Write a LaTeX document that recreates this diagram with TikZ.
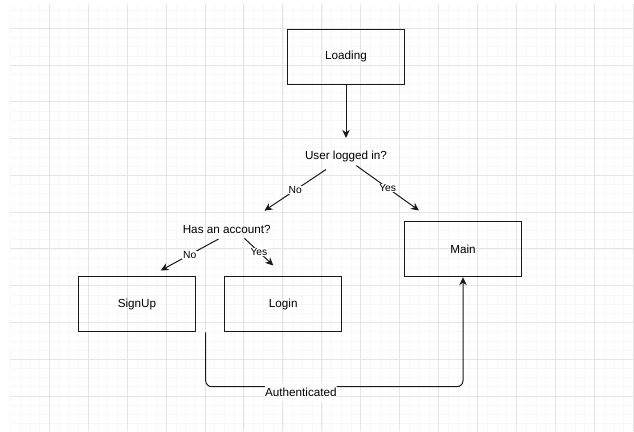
\documentclass[tikz,border=0pt]{standalone}
\usepackage{fontspec}
\setmainfont{Liberation Sans}
\usetikzlibrary{arrows.meta}

\begin{document}
\begin{tikzpicture}[x=1pt,y=-1pt,
        box/.style={draw=black!90,line width=1pt,minimum width=117pt,minimum height=55pt,inner sep=0pt,font=\fontsize{11.7}{14}\selectfont},
        ask/.style={minimum width=117pt,minimum height=37pt,inner sep=0pt,font=\fontsize{11.7}{14}\selectfont},
        lbl/.style={fill=white,inner sep=0.6pt,font=\fontsize{10.3}{12}\selectfont},
        arr/.style={draw=black!90,line width=1pt,-{Stealth[length=8pt,width=7.5pt,inset=2.5pt]}},
        minor/.style={draw=black!3,line width=0.7pt},
        major/.style={draw=black!10,line width=1pt}]

    \fill[white] (0,0) rectangle (634,431);
    \begin{scope}
        \clip (10.4,4) rectangle (634,431);
        \foreach \k in {0,...,64} \draw[minor] (10.4+\k*9.733,4) -- (10.4+\k*9.733,431);
        \foreach \k in {-2,...,43} \draw[minor] (10.4,28.3+\k*9.1925) -- (634,28.3+\k*9.1925);
        \foreach \k in {1,...,16} \draw[major] (10.4+\k*38.93,4) -- (10.4+\k*38.93,431);
        \foreach \k in {0,...,10} \draw[major] (10.4,28.3+\k*36.77) -- (634,28.3+\k*36.77);
    \end{scope}

    \node[box] (load) at (346,56.5) {Loading};
    \node[ask] (user) at (346,156.6) {User logged in?};
    \node[ask] (acct) at (226.7,229.5) {Has an account?};
    \node[box] (main) at (463,249.2) {Main};
    \node[box] (signup) at (137,304.3) {SignUp};
    \node[box] (login) at (283.2,304.3) {Login};
    \coordinate (auth) at (205.7,332.3);

    \draw[arr] (load) -- (user);
    \draw[arr] ([shift={(-20,12.9)}]user.center) -- node[lbl]{No} ([shift={(37.7,-0.1)}]acct.north);
    \draw[arr] ([shift={(10.3,9)}]user.center) -- node[lbl]{Yes} ([shift={(-44,-10.7)}]main.north);
    \draw[arr] ([shift={(-8.1,9.5)}]acct.center) -- node[lbl]{No} ([shift={(23.7,-5.8)}]signup.north);
    \draw[arr] ([shift={(17.8,8.9)}]acct.center) -- node[lbl]{Yes} ([shift={(-9.9,-10.8)}]login.north);
    \draw[arr,rounded corners=6pt] (auth) -- ++(0,54.4) -| node[pos=0.185,yshift=-5.5pt,fill=white,inner xsep=0.5pt,inner ysep=5pt,font=\fontsize{11.7}{14}\selectfont]{Authenticated} (main.south);
\end{tikzpicture}
\end{document}
